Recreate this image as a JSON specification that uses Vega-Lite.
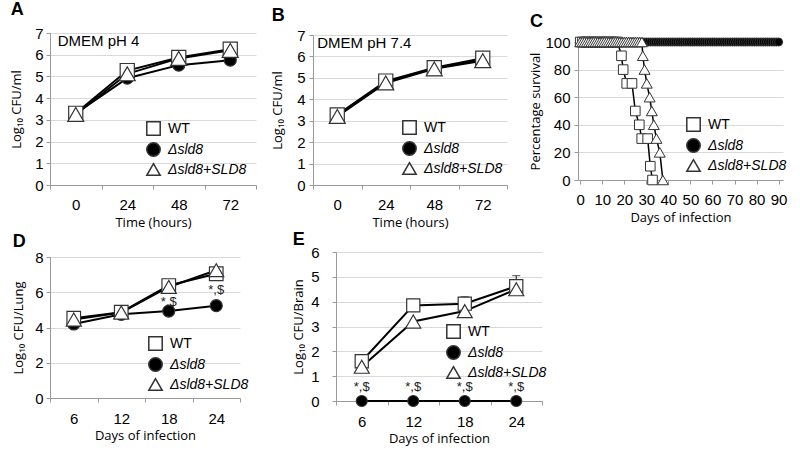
{
"$schema": "https://vega.github.io/schema/vega-lite/v6.json",
"background": "white",
"padding": {"left": 10, "top": 0, "right": 5, "bottom": 2},
"config": {
  "view": {"stroke": null},
  "font": "Liberation Sans",
  "axis": {"labelFont": "Liberation Sans", "labelFontSize": 15, "labelColor": "#000", "titleFont": "Open Sans", "titleFontSize": 13, "titleFontWeight": "normal", "titleColor": "#000", "domainColor": "#9a9a9a", "tickColor": "#9a9a9a", "gridColor": "#d9d9d9", "tickSize": 4},
  "axisX": {"grid": false, "labelAngle": 0, "labelPadding": 8, "titlePadding": 4},
  "axisY": {"grid": true, "labelPadding": 3},
  "title": {"font": "Liberation Sans", "fontSize": 18, "fontWeight": "bold", "anchor": "start", "frame": "bounds", "color": "#000"},
  "legend": {"labelFont": "Liberation Sans", "labelFontSize": 14, "labelColor": "#000", "symbolSize": 180, "rowPadding": 0, "labelOffset": 7, "padding": 0}
},
"spacing": 2,
"resolve": {"scale": {"shape": "independent", "fill": "independent", "size": "independent"}, "legend": {"shape": "independent", "fill": "independent", "size": "independent"}},
"vconcat": [
{
 "spacing": 14,
 "resolve": {"scale": {"shape": "independent", "fill": "independent", "size": "independent"}, "legend": {"shape": "independent", "fill": "independent", "size": "independent"}},
 "hconcat": [
 {
  "title": {"text": "A", "offset": 7.5},
  "width": 206, "height": 152,
  "data": {"values": [
   {"s": "Δsld8", "t": 0, "v": 3.3}, {"s": "Δsld8", "t": 24, "v": 4.92}, {"s": "Δsld8", "t": 48, "v": 5.52}, {"s": "Δsld8", "t": 72, "v": 5.75},
   {"s": "WT", "t": 0, "v": 3.3}, {"s": "WT", "t": 24, "v": 5.27}, {"s": "WT", "t": 48, "v": 5.87}, {"s": "WT", "t": 72, "v": 6.25},
   {"s": "Δsld8+SLD8", "t": 0, "v": 3.25}, {"s": "Δsld8+SLD8", "t": 24, "v": 5.12}, {"s": "Δsld8+SLD8", "t": 48, "v": 5.83}, {"s": "Δsld8+SLD8", "t": 72, "v": 6.2}
  ]},
  "encoding": {
   "x": {"field": "t", "type": "ordinal", "scale": {"type": "band", "paddingInner": 0, "paddingOuter": 0}, "axis": {"title": "Time (hours)", "tickBand": "extent"}},
   "y": {"field": "v", "type": "quantitative", "scale": {"domain": [0, 7], "nice": false}, "axis": {"title": "Log₁₀ CFU/ml", "values": [0, 1, 2, 3, 4, 5, 6, 7], "titlePadding": 11}}
  },
  "layer": [
   {"mark": {"type": "line", "color": "#000", "strokeWidth": 2}, "encoding": {"detail": {"field": "s"}}},
   {"mark": {"type": "point", "filled": true, "stroke": "#333", "strokeWidth": 1.2, "opacity": 1},
    "encoding": {
     "shape": {"field": "s", "type": "nominal", "scale": {"domain": ["WT", "Δsld8", "Δsld8+SLD8"], "range": ["square", "circle", "triangle-up"]}, "legend": {"title": null, "orient": "none", "legendX": 96, "legendY": 88, "labelFontStyle": {"expr": "datum.value === 'WT' ? 'normal' : 'italic'"}, "encode": {"symbols": {"update": {"stroke": {"value": "#333"}, "strokeWidth": {"value": 1.2}}}}}},
     "fill": {"field": "s", "type": "nominal", "scale": {"domain": ["WT", "Δsld8", "Δsld8+SLD8"], "range": ["white", "black", "white"]}, "legend": {"title": null, "orient": "none", "legendX": 96, "legendY": 88, "labelFontStyle": {"expr": "datum.value === 'WT' ? 'normal' : 'italic'"}, "encode": {"symbols": {"update": {"stroke": {"value": "#333"}, "strokeWidth": {"value": 1.2}}}}}},
     "size": {"field": "s", "type": "nominal", "scale": {"domain": ["Δsld8", "WT", "Δsld8+SLD8"], "range": [144, 256, 289]}, "legend": null}
    }},
   {"data": {"values": [{"t": 0, "v": 6.63, "label": "DMEM pH 4"}]}, "mark": {"type": "text", "align": "left", "dx": -18, "fontSize": 15, "font": "Liberation Sans", "color": "#000"}, "encoding": {"text": {"field": "label"}}}
  ]
 },
 {
  "spacing": 21,
  "resolve": {"scale": {"shape": "independent", "fill": "independent", "size": "independent"}, "legend": {"shape": "independent", "fill": "independent", "size": "independent"}},
  "hconcat": [
  {
   "title": {"text": "B", "offset": 3},
   "width": 194, "height": 152,
   "data": {"values": [
    {"s": "Δsld8", "t": 0, "v": 3.22}, {"s": "Δsld8", "t": 24, "v": 4.8}, {"s": "Δsld8", "t": 48, "v": 5.45}, {"s": "Δsld8", "t": 72, "v": 5.85},
    {"s": "WT", "t": 0, "v": 3.27}, {"s": "WT", "t": 24, "v": 4.85}, {"s": "WT", "t": 48, "v": 5.47}, {"s": "WT", "t": 72, "v": 5.92},
    {"s": "Δsld8+SLD8", "t": 0, "v": 3.2}, {"s": "Δsld8+SLD8", "t": 24, "v": 4.76}, {"s": "Δsld8+SLD8", "t": 48, "v": 5.42}, {"s": "Δsld8+SLD8", "t": 72, "v": 5.8}
   ]},
   "encoding": {
    "x": {"field": "t", "type": "ordinal", "scale": {"type": "band", "paddingInner": 0, "paddingOuter": 0}, "axis": {"title": "Time (hours)", "tickBand": "extent"}},
    "y": {"field": "v", "type": "quantitative", "scale": {"domain": [0, 7], "nice": false, "range": [152, 2]}, "axis": {"title": "Log₁₀ CFU/ml", "values": [0, 1, 2, 3, 4, 5, 6, 7], "titlePadding": 12, "labelPadding": 4}}
   },
   "layer": [
    {"mark": {"type": "line", "color": "#000", "strokeWidth": 2}, "encoding": {"detail": {"field": "s"}}},
    {"mark": {"type": "point", "filled": true, "stroke": "#333", "strokeWidth": 1.2, "opacity": 1},
     "encoding": {
      "shape": {"field": "s", "type": "nominal", "scale": {"domain": ["WT", "Δsld8", "Δsld8+SLD8"], "range": ["square", "circle", "triangle-up"]}, "legend": {"title": null, "orient": "none", "legendX": 89, "legendY": 87, "labelFontStyle": {"expr": "datum.value === 'WT' ? 'normal' : 'italic'"}, "encode": {"symbols": {"update": {"stroke": {"value": "#333"}, "strokeWidth": {"value": 1.2}}}}}},
      "fill": {"field": "s", "type": "nominal", "scale": {"domain": ["WT", "Δsld8", "Δsld8+SLD8"], "range": ["white", "black", "white"]}, "legend": {"title": null, "orient": "none", "legendX": 89, "legendY": 87, "labelFontStyle": {"expr": "datum.value === 'WT' ? 'normal' : 'italic'"}, "encode": {"symbols": {"update": {"stroke": {"value": "#333"}, "strokeWidth": {"value": 1.2}}}}}},
      "size": {"field": "s", "type": "nominal", "scale": {"domain": ["Δsld8", "WT", "Δsld8+SLD8"], "range": [144, 256, 289]}, "legend": null}
     }},
    {"data": {"values": [{"t": 0, "v": 6.63, "label": "DMEM pH 7.4"}]}, "mark": {"type": "text", "align": "left", "dx": -20, "fontSize": 15, "font": "Liberation Sans", "color": "#000"}, "encoding": {"text": {"field": "label"}}}
   ]
  },
  {
   "title": {"text": "C", "offset": 2},
   "width": 205, "height": 147,
   "data": {"values": [
    {"s":"Δsld8","d":0,"p":100},{"s":"Δsld8","d":1,"p":100},{"s":"Δsld8","d":2,"p":100},{"s":"Δsld8","d":3,"p":100},{"s":"Δsld8","d":4,"p":100},{"s":"Δsld8","d":5,"p":100},{"s":"Δsld8","d":6,"p":100},{"s":"Δsld8","d":7,"p":100},{"s":"Δsld8","d":8,"p":100},{"s":"Δsld8","d":9,"p":100},
    {"s":"Δsld8","d":10,"p":100},{"s":"Δsld8","d":11,"p":100},{"s":"Δsld8","d":12,"p":100},{"s":"Δsld8","d":13,"p":100},{"s":"Δsld8","d":14,"p":100},{"s":"Δsld8","d":15,"p":100},{"s":"Δsld8","d":16,"p":100},{"s":"Δsld8","d":17,"p":100},{"s":"Δsld8","d":18,"p":100},{"s":"Δsld8","d":19,"p":100},
    {"s":"Δsld8","d":20,"p":100},{"s":"Δsld8","d":21,"p":100},{"s":"Δsld8","d":22,"p":100},{"s":"Δsld8","d":23,"p":100},{"s":"Δsld8","d":24,"p":100},{"s":"Δsld8","d":25,"p":100},{"s":"Δsld8","d":26,"p":100},{"s":"Δsld8","d":27,"p":100},{"s":"Δsld8","d":28,"p":100},{"s":"Δsld8","d":29,"p":100},
    {"s":"Δsld8","d":30,"p":100},{"s":"Δsld8","d":31,"p":100},{"s":"Δsld8","d":32,"p":100},{"s":"Δsld8","d":33,"p":100},{"s":"Δsld8","d":34,"p":100},{"s":"Δsld8","d":35,"p":100},{"s":"Δsld8","d":36,"p":100},{"s":"Δsld8","d":37,"p":100},{"s":"Δsld8","d":38,"p":100},{"s":"Δsld8","d":39,"p":100},
    {"s":"Δsld8","d":40,"p":100},{"s":"Δsld8","d":41,"p":100},{"s":"Δsld8","d":42,"p":100},{"s":"Δsld8","d":43,"p":100},{"s":"Δsld8","d":44,"p":100},{"s":"Δsld8","d":45,"p":100},{"s":"Δsld8","d":46,"p":100},{"s":"Δsld8","d":47,"p":100},{"s":"Δsld8","d":48,"p":100},{"s":"Δsld8","d":49,"p":100},
    {"s":"Δsld8","d":50,"p":100},{"s":"Δsld8","d":51,"p":100},{"s":"Δsld8","d":52,"p":100},{"s":"Δsld8","d":53,"p":100},{"s":"Δsld8","d":54,"p":100},{"s":"Δsld8","d":55,"p":100},{"s":"Δsld8","d":56,"p":100},{"s":"Δsld8","d":57,"p":100},{"s":"Δsld8","d":58,"p":100},{"s":"Δsld8","d":59,"p":100},
    {"s":"Δsld8","d":60,"p":100},{"s":"Δsld8","d":61,"p":100},{"s":"Δsld8","d":62,"p":100},{"s":"Δsld8","d":63,"p":100},{"s":"Δsld8","d":64,"p":100},{"s":"Δsld8","d":65,"p":100},{"s":"Δsld8","d":66,"p":100},{"s":"Δsld8","d":67,"p":100},{"s":"Δsld8","d":68,"p":100},{"s":"Δsld8","d":69,"p":100},
    {"s":"Δsld8","d":70,"p":100},{"s":"Δsld8","d":71,"p":100},{"s":"Δsld8","d":72,"p":100},{"s":"Δsld8","d":73,"p":100},{"s":"Δsld8","d":74,"p":100},{"s":"Δsld8","d":75,"p":100},{"s":"Δsld8","d":76,"p":100},{"s":"Δsld8","d":77,"p":100},{"s":"Δsld8","d":78,"p":100},{"s":"Δsld8","d":79,"p":100},
    {"s":"Δsld8","d":80,"p":100},{"s":"Δsld8","d":81,"p":100},{"s":"Δsld8","d":82,"p":100},{"s":"Δsld8","d":83,"p":100},{"s":"Δsld8","d":84,"p":100},{"s":"Δsld8","d":85,"p":100},{"s":"Δsld8","d":86,"p":100},{"s":"Δsld8","d":87,"p":100},{"s":"Δsld8","d":88,"p":100},{"s":"Δsld8","d":89,"p":100},
    {"s":"Δsld8","d":90,"p":100},
    {"s":"WT","d":0,"p":100},{"s":"WT","d":1,"p":100},{"s":"WT","d":2,"p":100},{"s":"WT","d":3,"p":100},{"s":"WT","d":4,"p":100},{"s":"WT","d":5,"p":100},{"s":"WT","d":6,"p":100},{"s":"WT","d":7,"p":100},{"s":"WT","d":8,"p":100},{"s":"WT","d":9,"p":100},
    {"s":"WT","d":10,"p":100},{"s":"WT","d":11,"p":100},{"s":"WT","d":12,"p":100},{"s":"WT","d":13,"p":100},{"s":"WT","d":14,"p":100},{"s":"WT","d":15,"p":100},{"s":"WT","d":16,"p":100},{"s":"WT","d":17,"p":100},
    {"s":"WT","d":18.7,"p":90},{"s":"WT","d":19.5,"p":80},{"s":"WT","d":21.1,"p":70},{"s":"WT","d":23.5,"p":70},{"s":"WT","d":25,"p":50},{"s":"WT","d":26.8,"p":40},{"s":"WT","d":27.9,"p":30},{"s":"WT","d":30.6,"p":30},{"s":"WT","d":31.8,"p":10},{"s":"WT","d":32.8,"p":0},
    {"s":"Δsld8+SLD8","d":0,"p":100},{"s":"Δsld8+SLD8","d":1,"p":100},{"s":"Δsld8+SLD8","d":2,"p":100},{"s":"Δsld8+SLD8","d":3,"p":100},{"s":"Δsld8+SLD8","d":4,"p":100},{"s":"Δsld8+SLD8","d":5,"p":100},{"s":"Δsld8+SLD8","d":6,"p":100},{"s":"Δsld8+SLD8","d":7,"p":100},{"s":"Δsld8+SLD8","d":8,"p":100},{"s":"Δsld8+SLD8","d":9,"p":100},
    {"s":"Δsld8+SLD8","d":10,"p":100},{"s":"Δsld8+SLD8","d":11,"p":100},{"s":"Δsld8+SLD8","d":12,"p":100},{"s":"Δsld8+SLD8","d":13,"p":100},{"s":"Δsld8+SLD8","d":14,"p":100},{"s":"Δsld8+SLD8","d":15,"p":100},{"s":"Δsld8+SLD8","d":16,"p":100},{"s":"Δsld8+SLD8","d":17,"p":100},{"s":"Δsld8+SLD8","d":18,"p":100},{"s":"Δsld8+SLD8","d":19,"p":100},
    {"s":"Δsld8+SLD8","d":20,"p":100},{"s":"Δsld8+SLD8","d":21,"p":100},{"s":"Δsld8+SLD8","d":22,"p":100},{"s":"Δsld8+SLD8","d":23,"p":100},{"s":"Δsld8+SLD8","d":24,"p":100},{"s":"Δsld8+SLD8","d":25,"p":100},{"s":"Δsld8+SLD8","d":26,"p":100},{"s":"Δsld8+SLD8","d":27,"p":100},{"s":"Δsld8+SLD8","d":28,"p":100},
    {"s":"Δsld8+SLD8","d":28.4,"p":90},{"s":"Δsld8+SLD8","d":29.2,"p":80},{"s":"Δsld8+SLD8","d":30.2,"p":70},{"s":"Δsld8+SLD8","d":31.5,"p":60},{"s":"Δsld8+SLD8","d":32.5,"p":50},{"s":"Δsld8+SLD8","d":33.4,"p":40},{"s":"Δsld8+SLD8","d":34.6,"p":30},{"s":"Δsld8+SLD8","d":36.1,"p":20},{"s":"Δsld8+SLD8","d":37.5,"p":0}
   ]},
   "encoding": {
    "x": {"field": "d", "type": "quantitative", "scale": {"domain": [-1, 92], "nice": false, "zero": false}, "axis": {"title": "Days of infection", "values": [0, 10, 20, 30, 40, 50, 60, 70, 80, 90], "grid": false}},
    "y": {"field": "p", "type": "quantitative", "scale": {"domain": [0, 100], "nice": false, "range": [147, 9]}, "axis": {"title": "Percentage survival", "values": [0, 20, 40, 60, 80, 100], "titlePadding": 2, "labelPadding": 4}}
   },
   "layer": [
    {"mark": {"type": "line", "color": "#000", "strokeWidth": 1.5}, "encoding": {"detail": {"field": "s"}}},
    {"mark": {"type": "point", "filled": true, "stroke": "#333", "strokeWidth": 1, "opacity": 1},
     "encoding": {
      "shape": {"field": "s", "type": "nominal", "scale": {"domain": ["WT", "Δsld8", "Δsld8+SLD8"], "range": ["square", "circle", "triangle-up"]}, "legend": {"title": null, "orient": "none", "legendX": 108, "legendY": 84, "labelFontStyle": {"expr": "datum.value === 'WT' ? 'normal' : 'italic'"}, "encode": {"symbols": {"update": {"stroke": {"value": "#333"}, "strokeWidth": {"value": 1.2}}}}}},
      "fill": {"field": "s", "type": "nominal", "scale": {"domain": ["WT", "Δsld8", "Δsld8+SLD8"], "range": ["white", "black", "white"]}, "legend": {"title": null, "orient": "none", "legendX": 108, "legendY": 84, "labelFontStyle": {"expr": "datum.value === 'WT' ? 'normal' : 'italic'"}, "encode": {"symbols": {"update": {"stroke": {"value": "#333"}, "strokeWidth": {"value": 1.2}}}}}},
      "size": {"field": "s", "type": "nominal", "scale": {"domain": ["Δsld8", "WT", "Δsld8+SLD8"], "range": [64, 120, 180]}, "legend": null}
     }}
   ]
  }
  ]
 }
 ]
},
{
 "spacing": 43,
 "resolve": {"scale": {"shape": "independent", "fill": "independent", "size": "independent"}, "legend": {"shape": "independent", "fill": "independent", "size": "independent"}},
 "hconcat": [
 {
  "title": {"text": "D", "offset": -1},
  "width": 190, "height": 146,
  "data": {"values": [
   {"s": "Δsld8", "t": 6, "v": 4.2}, {"s": "Δsld8", "t": 12, "v": 4.75}, {"s": "Δsld8", "t": 18, "v": 4.93}, {"s": "Δsld8", "t": 24, "v": 5.24},
   {"s": "WT", "t": 6, "v": 4.53}, {"s": "WT", "t": 12, "v": 4.87}, {"s": "WT", "t": 18, "v": 6.38}, {"s": "WT", "t": 24, "v": 7.05},
   {"s": "Δsld8+SLD8", "t": 6, "v": 4.45}, {"s": "Δsld8+SLD8", "t": 12, "v": 4.85}, {"s": "Δsld8+SLD8", "t": 18, "v": 6.3}, {"s": "Δsld8+SLD8", "t": 24, "v": 7.25}
  ]},
  "encoding": {
   "x": {"field": "t", "type": "ordinal", "scale": {"type": "band", "paddingInner": 0, "paddingOuter": 0}, "axis": {"title": "Days of infection", "tickBand": "extent", "labelPadding": 9, "titlePadding": 3}},
   "y": {"field": "v", "type": "quantitative", "scale": {"domain": [0, 8], "nice": false, "range": [146, 5]}, "axis": {"title": "Log₁₀ CFU/Lung", "values": [0, 2, 4, 6, 8], "titlePadding": 9}}
  },
  "layer": [
   {"mark": {"type": "line", "color": "#000", "strokeWidth": 2}, "encoding": {"detail": {"field": "s"}}},
   {"mark": {"type": "point", "filled": true, "stroke": "#333", "strokeWidth": 1.2, "opacity": 1},
    "encoding": {
     "shape": {"field": "s", "type": "nominal", "scale": {"domain": ["WT", "Δsld8", "Δsld8+SLD8"], "range": ["square", "circle", "triangle-up"]}, "legend": {"title": null, "orient": "none", "legendX": 98, "legendY": 84, "labelFontStyle": {"expr": "datum.value === 'WT' ? 'normal' : 'italic'"}, "encode": {"symbols": {"update": {"stroke": {"value": "#333"}, "strokeWidth": {"value": 1.2}}}}}},
     "fill": {"field": "s", "type": "nominal", "scale": {"domain": ["WT", "Δsld8", "Δsld8+SLD8"], "range": ["white", "black", "white"]}, "legend": {"title": null, "orient": "none", "legendX": 98, "legendY": 84, "labelFontStyle": {"expr": "datum.value === 'WT' ? 'normal' : 'italic'"}, "encode": {"symbols": {"update": {"stroke": {"value": "#333"}, "strokeWidth": {"value": 1.2}}}}}},
     "size": {"field": "s", "type": "nominal", "scale": {"domain": ["Δsld8", "WT", "Δsld8+SLD8"], "range": [144, 225, 289]}, "legend": null}
    }},
   {"data": {"values": [{"t": 18, "v": 5.43, "label": "*,$"}, {"t": 24, "v": 6.1, "label": "*,$"}]}, "mark": {"type": "text", "fontSize": 13, "font": "Liberation Sans", "color": "#222"}, "encoding": {"text": {"field": "label"}}}
  ]
 },
 {
  "title": {"text": "E", "offset": -4},
  "width": 206, "height": 149,
  "data": {"values": [
   {"s": "Δsld8", "t": 6, "v": 0}, {"s": "Δsld8", "t": 12, "v": 0}, {"s": "Δsld8", "t": 18, "v": 0}, {"s": "Δsld8", "t": 24, "v": 0},
   {"s": "WT", "t": 6, "v": 1.6}, {"s": "WT", "t": 12, "v": 3.85}, {"s": "WT", "t": 18, "v": 3.92}, {"s": "WT", "t": 24, "v": 4.62},
   {"s": "Δsld8+SLD8", "t": 6, "v": 1.38}, {"s": "Δsld8+SLD8", "t": 12, "v": 3.2}, {"s": "Δsld8+SLD8", "t": 18, "v": 3.62}, {"s": "Δsld8+SLD8", "t": 24, "v": 4.5}
  ]},
  "encoding": {
   "x": {"field": "t", "type": "ordinal", "scale": {"type": "band", "paddingInner": 0, "paddingOuter": 0}, "axis": {"title": "Days of infection", "tickBand": "extent", "labelPadding": 9, "titlePadding": 3}},
   "y": {"field": "v", "type": "quantitative", "scale": {"domain": [0, 6], "nice": false}, "axis": {"title": "Log₁₀ CFU/Brain", "values": [0, 1, 2, 3, 4, 5, 6], "titlePadding": 5, "labelPadding": 13}}
  },
  "layer": [
   {"mark": {"type": "line", "color": "#000", "strokeWidth": 2}, "encoding": {"detail": {"field": "s"}}},
   {"data": {"values": [{"t": 18, "lo": 3.92, "hi": 4.2}, {"t": 24, "lo": 4.62, "hi": 5.05}]}, "mark": {"type": "rule", "color": "#333", "strokeWidth": 1.2}, "encoding": {"y": {"field": "lo", "type": "quantitative"}, "y2": {"field": "hi"}}},
   {"data": {"values": [{"t": 18, "hi": 4.2}, {"t": 24, "hi": 5.05}]}, "mark": {"type": "tick", "color": "#333", "size": 8, "thickness": 1.2, "orient": "horizontal"}, "encoding": {"y": {"field": "hi", "type": "quantitative"}}},
   {"mark": {"type": "point", "filled": true, "stroke": "#333", "strokeWidth": 1.2, "opacity": 1},
    "encoding": {
     "shape": {"field": "s", "type": "nominal", "scale": {"domain": ["WT", "Δsld8", "Δsld8+SLD8"], "range": ["square", "circle", "triangle-up"]}, "legend": {"title": null, "orient": "none", "legendX": 110, "legendY": 72, "labelFontStyle": {"expr": "datum.value === 'WT' ? 'normal' : 'italic'"}, "encode": {"symbols": {"update": {"stroke": {"value": "#333"}, "strokeWidth": {"value": 1.2}}}}}},
     "fill": {"field": "s", "type": "nominal", "scale": {"domain": ["WT", "Δsld8", "Δsld8+SLD8"], "range": ["white", "black", "white"]}, "legend": {"title": null, "orient": "none", "legendX": 110, "legendY": 72, "labelFontStyle": {"expr": "datum.value === 'WT' ? 'normal' : 'italic'"}, "encode": {"symbols": {"update": {"stroke": {"value": "#333"}, "strokeWidth": {"value": 1.2}}}}}},
     "size": {"field": "s", "type": "nominal", "scale": {"domain": ["Δsld8", "WT", "Δsld8+SLD8"], "range": [121, 225, 289]}, "legend": null}
    }},
   {"data": {"values": [{"t": 6, "v": 0.55, "label": "*,$"}, {"t": 12, "v": 0.55, "label": "*,$"}, {"t": 18, "v": 0.55, "label": "*,$"}, {"t": 24, "v": 0.55, "label": "*,$"}]}, "mark": {"type": "text", "fontSize": 13, "font": "Liberation Sans", "color": "#222"}, "encoding": {"text": {"field": "label"}}}
  ]
 }
 ]
}
]
}
